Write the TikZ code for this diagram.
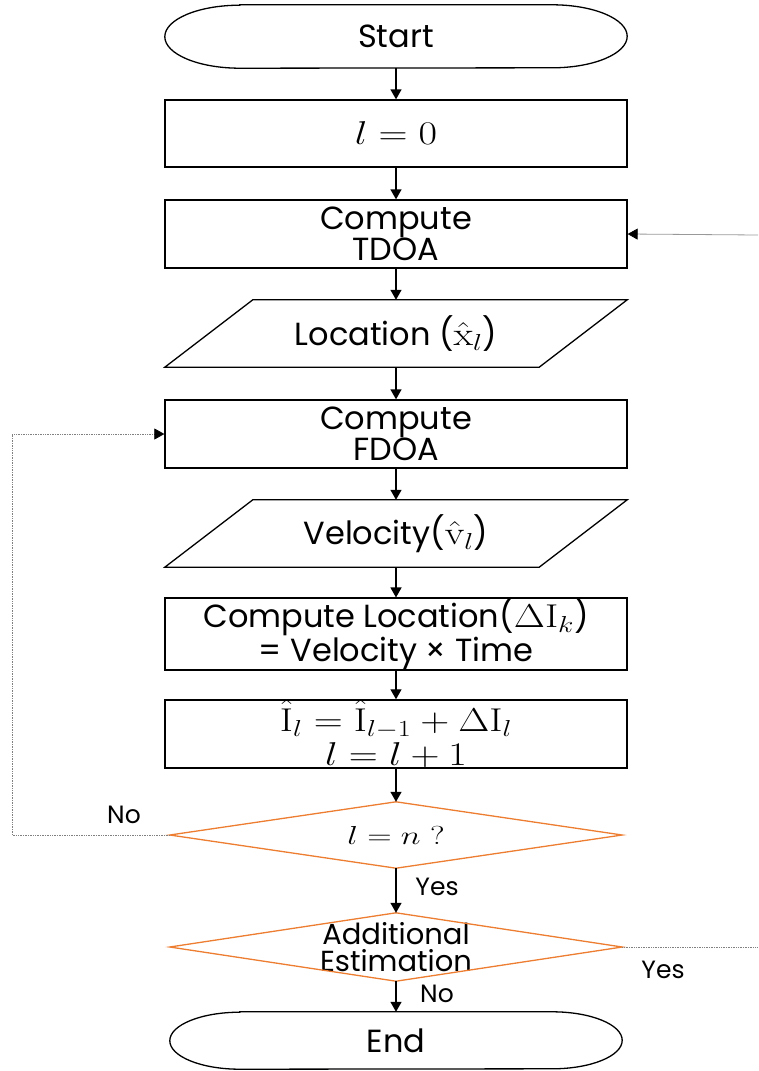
\RequirePackage{fix-cm}
\documentclass[tikz,border=0pt]{standalone}
\usepackage{graphicx}
\usepackage[no-math]{fontspec}
\setmainfont{Poppins}
\usetikzlibrary{arrows.meta}
\definecolor{dorange}{HTML}{ED7D31}
\newcommand{\mth}[1]{\scalebox{1.22}[1]{\fontsize{33}{33}\selectfont$#1$}}
\begin{document}
\begin{tikzpicture}[x=1pt,y=-1pt,
  base/.style={inner sep=0pt, align=center, font=\fontsize{32}{31}\selectfont, text=black},
  box/.style={base, draw=black, line width=1.3pt, minimum width=462pt, minimum height=67pt},
  plain/.style={base, minimum width=462pt, minimum height=67pt},
  decnode/.style={base, minimum width=452pt, minimum height=67pt},
  shapeline/.style={draw=black, line width=1.3pt},
  decline/.style={draw=dorange, line width=1.3pt},
  arr/.style={draw=black, line width=1.3pt, -{Triangle[length=10pt,width=11pt]}},
  fbline/.style={draw=gray, line width=0.7pt, densely dotted, -{Triangle[length=10pt,width=11pt,color=black]}},
  outline/.style={draw=gray, line width=0.7pt, densely dotted},
  inline/.style={draw=gray!80, line width=0.8pt, -{Triangle[length=10pt,width=11pt,color=black]}},
  lbl/.style={font=\fontsize{25}{25}\selectfont, inner sep=0pt, text=black}
]
\useasboundingbox (0,0) rectangle (758,1071);

% nodes
\node[plain, minimum height=63pt] (start) at (396,36.5) {Start};
\node[box] (l0) at (396,133.5) {\mth{l = 0}};
\node[box, minimum height=68pt] (tdoa) at (396,234) {Compute\\TDOA};
\node[plain] (loc) at (396,333.5) {Location (\mth{\hat{\mathrm{x}}_l})};
\node[box, minimum height=68pt] (fdoa) at (396,434) {Compute\\FDOA};
\node[plain] (vel) at (396,533.5) {Velocity(\mth{\hat{\mathrm{v}}_l})};
\node[box, minimum height=68pt] (cloc) at (396,634) {Compute Location(\mth{\Delta\mathrm{I}_k})\\= Velocity × Time};
\node[box, minimum height=68pt, font=\fontsize{28}{27}\selectfont] (ihat) at (396,734) {\mth{\hat{\mathrm{I}}_l = \hat{\mathrm{I}}_{l-1} + \Delta\mathrm{I}_l}\\[4pt]\mth{l = l + 1}};
\node[decnode, minimum height=66pt] (d1) at (396,835) {\scalebox{1.3}[1]{\fontsize{26}{26}\selectfont$l = n\;?$}};
\node[decnode, minimum height=68pt, font=\fontsize{29}{27}\selectfont] (d2) at (396,947) {Additional\\Estimation};
\node[plain, minimum width=452pt, minimum height=57pt] (end) at (396,1040.5) {End};

% terminal outlines
\draw[shapeline] ([xshift=75pt]start.north west) -- ([xshift=-75pt]start.north east)
  arc[start angle=90, end angle=-90, x radius=75pt, y radius=31.5pt]
  -- ([xshift=75pt]start.south west)
  arc[start angle=270, end angle=90, x radius=75pt, y radius=31.5pt] -- cycle;
\draw[shapeline] ([xshift=70pt]end.north west) -- ([xshift=-70pt]end.north east)
  arc[start angle=90, end angle=-90, x radius=70pt, y radius=28.5pt]
  -- ([xshift=70pt]end.south west)
  arc[start angle=270, end angle=90, x radius=70pt, y radius=28.5pt] -- cycle;

% parallelograms
\draw[shapeline] ([xshift=88pt]loc.north west) -- (loc.north east)
  -- ([xshift=-88pt]loc.south east) -- (loc.south west) -- cycle;
\draw[shapeline] ([xshift=88pt]vel.north west) -- (vel.north east)
  -- ([xshift=-88pt]vel.south east) -- (vel.south west) -- cycle;

% diamonds
\draw[decline] (d1.west) -- (d1.north) -- (d1.east) -- (d1.south) -- cycle;
\draw[decline] (d2.west) -- (d2.north) -- (d2.east) -- (d2.south) -- cycle;

% main arrows
\draw[arr] (start.south) -- (l0.north);
\draw[arr] (l0.south) -- (tdoa.north);
\draw[arr] (tdoa.south) -- (loc.north);
\draw[arr] (loc.south) -- (fdoa.north);
\draw[arr] (fdoa.south) -- (vel.north);
\draw[arr] (vel.south) -- (cloc.north);
\draw[arr] (cloc.south) -- (ihat.north);
\draw[arr] (ihat.south) -- (d1.north);
\draw[arr] (d1.south) -- (d2.north);
\draw[arr] (d2.south) -- (end.north);

% side connectors
\coordinate (inR) at (758,235);
\coordinate (fbL) at (12,835);
\coordinate (outR) at (758,947);
\draw[inline] (inR) -- (tdoa.east);
\draw[fbline] (d1.west) -- (fbL) |- (fdoa.west);
\draw[outline] (d2.east) -- (outR);

% labels
\node[lbl] (lno1) at (124,815) {No};
\node[lbl] (lyes1) at (437,887) {Yes};
\node[lbl] (lyes2) at (663,970) {Yes};
\node[lbl] (lno2) at (437,994) {No};
\end{tikzpicture}
\end{document}
